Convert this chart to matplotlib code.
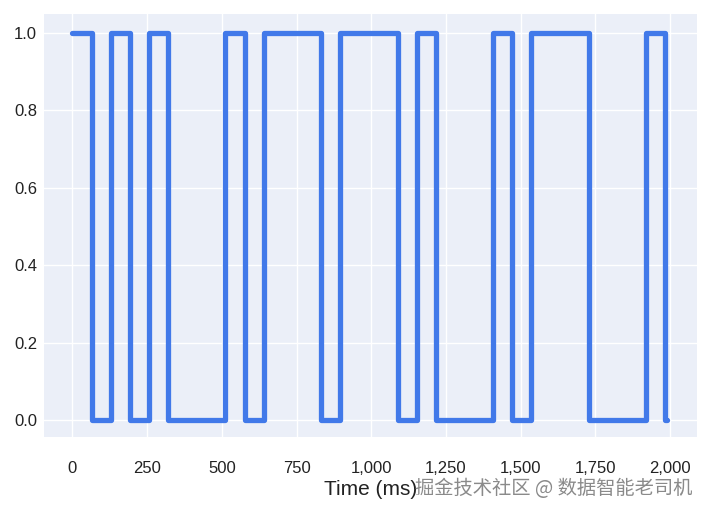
import matplotlib
matplotlib.use("Agg")
import matplotlib.pyplot as plt
from matplotlib.ticker import FuncFormatter

# change points (ms) and signal level held from each point
change_times = [0, 64, 128, 192, 256, 320, 512, 576, 640, 832, 896, 1088,
                1152, 1216, 1408, 1472, 1536, 1728, 1920, 1984]
levels = [1, 0, 1, 0, 1, 0, 1, 0, 1, 0, 1, 0, 1, 0, 1, 0, 1, 0, 1, 0]
end_time = 1990

x_ticks = [0, 250, 500, 750, 1000, 1250, 1500, 1750, 2000]
y_ticks = [0.0, 0.2, 0.4, 0.6, 0.8, 1.0]

t = change_times + [end_time]
v = levels + [levels[-1]]

plt.rcParams['font.family'] = ['Liberation Sans', 'DejaVu Sans']

fig = plt.figure(figsize=(7.07, 5.12), dpi=100)
ax = fig.add_axes([44/707, 1-437/512, (697-44)/707, (437-14)/512])
ax.set_facecolor('#EBEFF8')
for s in ax.spines.values():
    s.set_visible(False)
ax.grid(True, color='white', linewidth=1.0)
ax.set_axisbelow(True)

ax.step(t, v, where='post', color='#4179E9', linewidth=3.8,
        solid_joinstyle='round', solid_capstyle='round')

ax.set_xlim(-95, 2090)
ax.set_ylim(-0.044, 1.049)
ax.set_xticks(x_ticks)
ax.set_yticks(y_ticks)
ax.xaxis.set_major_formatter(FuncFormatter(lambda x, p: f"{int(x):,}"))
ax.yaxis.set_major_formatter(FuncFormatter(lambda y, p: f"{y:.1f}"))
ax.tick_params(axis='both', length=0, labelsize=12, colors='#222222')
ax.tick_params(axis='x', pad=17)
ax.tick_params(axis='y', pad=5)

ax.set_xlabel('Time (ms)', fontsize=15, color='#222222', labelpad=3)

fig.text(692/707, 1-489/512, '掘金技术社区 @ 数据智能老司机', ha='right', va='center',
         fontsize=13.9, color='#8a8a8a',
         family=['Noto Sans CJK SC', 'DejaVu Sans'])

fig.savefig('out.png', dpi=100, facecolor='white')
